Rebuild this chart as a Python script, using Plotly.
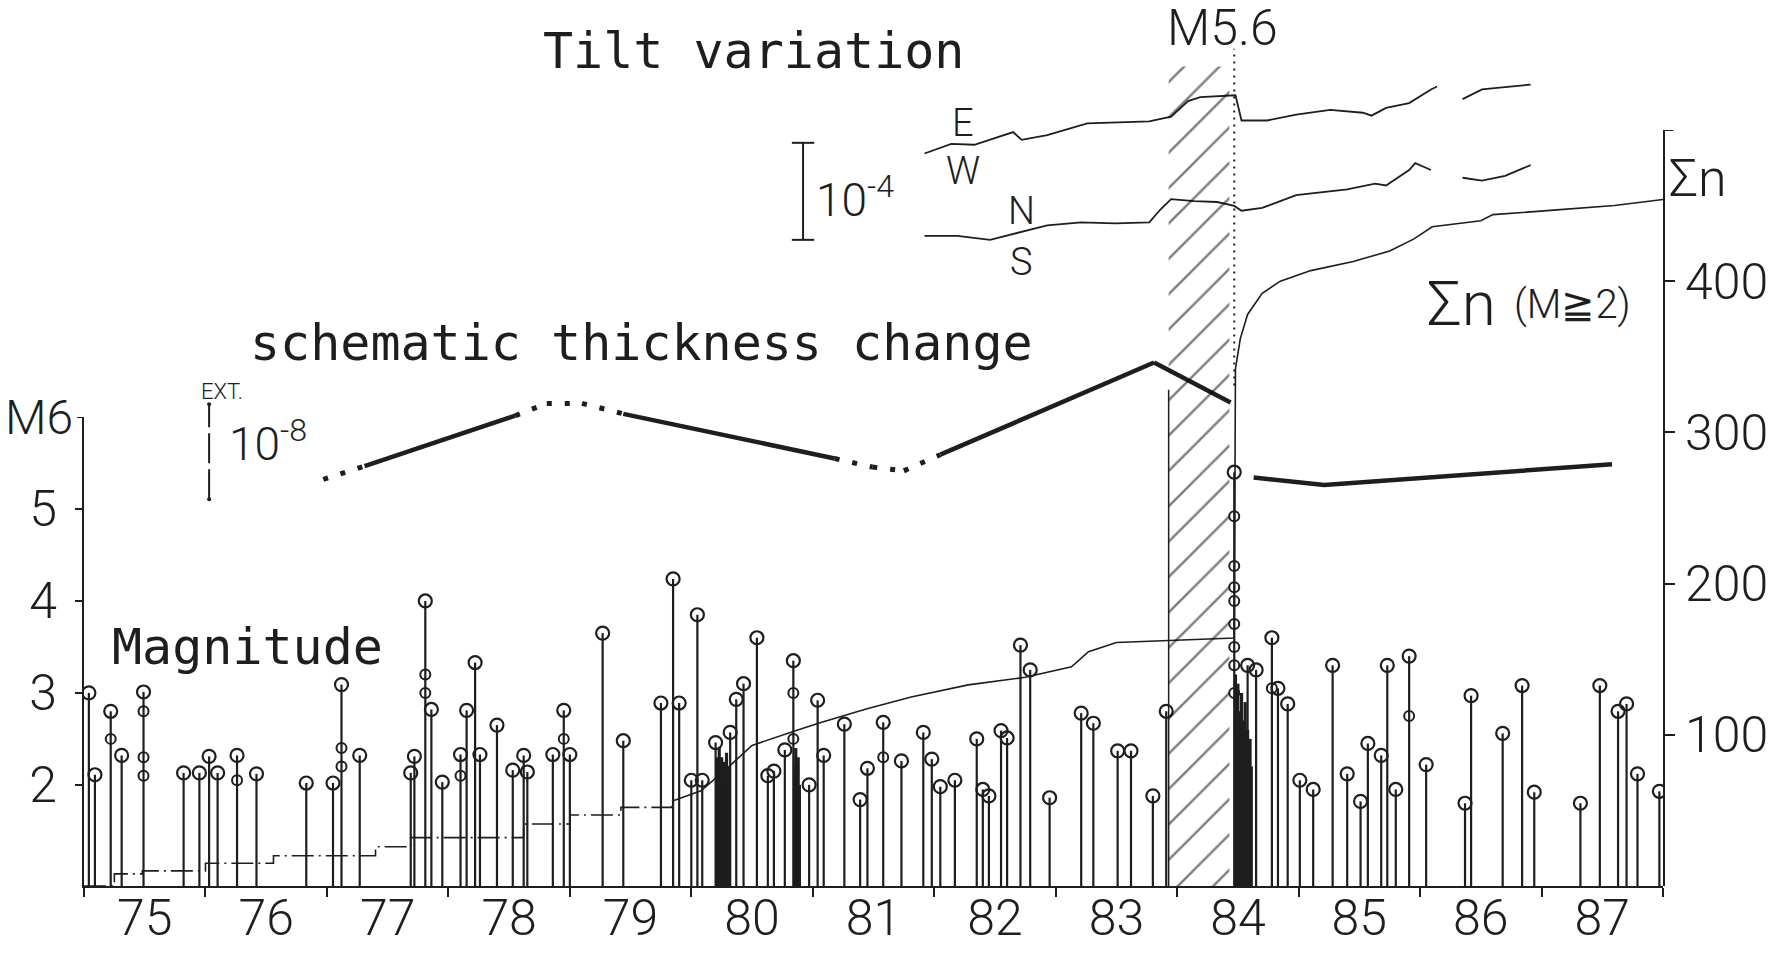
import plotly.graph_objects as go

# ---------------- data ----------------
YEAR_TICKS = list(range(1975, 1989))
YEAR_LABEL_POS = [y + 0.5 for y in range(1975, 1988)]
YEAR_LABELS = ["75", "76", "77", "78", "79", "80", "81", "82", "83", "84", "85", "86", "87"]

MAG_TICKS = [2, 3, 4, 5]
MAG_LABELS = ["2", "3", "4", "5"]
MAG_TOP = 6
MAG_TOP_LABEL = "M6"
SUM_TICKS = [100, 200, 300, 400]
SUM_LABELS = ["100", "200", "300", "400"]
SUM_TOP = 500

# individual earthquakes (time in years, magnitude)
EVENT_T = [1975.04, 1975.09, 1975.22, 1975.31, 1975.49, 1975.82, 1975.95, 1976.03, 1976.10, 1976.26,
           1976.42, 1976.83, 1977.05, 1977.12, 1977.27, 1977.69, 1977.72, 1977.81, 1977.86, 1977.95,
           1978.10, 1978.15, 1978.22, 1978.26, 1978.40, 1978.53, 1978.62, 1978.65, 1978.86, 1978.95,
           1979.00,
           1979.27, 1979.44, 1979.75, 1979.85, 1979.90, 1980.00, 1980.05, 1980.09, 1980.20, 1980.32,
           1980.37, 1980.43, 1980.54, 1980.63, 1980.68, 1980.77, 1980.84, 1980.97, 1981.04, 1981.09,
           1981.26, 1981.39, 1981.45, 1981.58, 1981.73, 1981.91, 1981.98, 1982.05, 1982.17, 1982.35,
           1982.40, 1982.45, 1982.55, 1982.60, 1982.71, 1982.79, 1982.95, 1983.21, 1983.31, 1983.51,
           1983.62, 1983.80, 1983.91,
           1984.47, 1984.58, 1984.65, 1984.78, 1984.83, 1984.91, 1985.01, 1985.12, 1985.28, 1985.40,
           1985.51, 1985.57, 1985.68, 1985.73, 1985.80, 1985.91, 1986.05, 1986.37, 1986.42, 1986.68,
           1986.84, 1986.94, 1987.32, 1987.48, 1987.63, 1987.70, 1987.79, 1987.97]
EVENT_M = [3.00, 2.11, 2.80, 2.32, 3.01, 2.13, 2.13, 2.31, 2.13, 2.32,
           2.12, 2.02, 2.02, 3.09, 2.32, 2.13, 2.31, 4.00, 2.82, 2.03,
           2.33, 2.81, 3.33, 2.33, 2.65, 2.16, 2.32, 2.14, 2.33, 2.81,
           2.33,
           3.65, 2.48, 2.89, 4.24, 2.89, 2.05, 3.85, 2.05, 2.46, 2.57,
           2.93, 3.10, 3.60, 2.10, 2.15, 2.38, 3.35, 2.00, 2.92, 2.32,
           2.66, 1.84, 2.18, 2.68, 2.26, 2.57, 2.28, 1.98, 2.05, 2.50,
           1.95, 1.88, 2.59, 2.51, 3.52, 3.25, 1.86, 2.78, 2.67, 2.37,
           2.37, 1.88, 2.80,
           5.40, 3.30, 3.25, 3.60, 3.05, 2.88, 2.05, 1.95, 3.30, 2.12,
           1.82, 2.45, 2.32, 3.30, 1.95, 3.40, 2.22, 1.80, 2.97, 2.56,
           3.08, 1.92, 1.80, 3.08, 2.80, 2.88, 2.12, 1.93]

# smaller events plotted on the same stems
SUB_T = [1975.22, 1975.49, 1975.49, 1975.49, 1976.26, 1977.12, 1977.12, 1977.81, 1977.81, 1978.10,
         1978.95, 1980.84, 1980.84, 1981.58, 1984.47, 1984.47, 1984.47, 1984.47, 1984.47, 1984.47,
         1984.47, 1984.47, 1984.78, 1985.91]
SUB_M = [2.50, 2.80, 2.30, 2.10, 2.05, 2.40, 2.20, 3.20, 3.00, 2.10,
         2.50, 3.00, 2.50, 2.30, 4.92, 4.38, 4.15, 4.00, 3.75, 3.50,
         3.30, 3.00, 3.05, 2.75]

# dense swarms (drawn as packed stems)
SWARM_T = [1980.21, 1980.22, 1980.23, 1980.24, 1980.25, 1980.26, 1980.27, 1980.28, 1980.29, 1980.30, 1980.31,
           1980.85, 1980.86, 1980.87, 1980.88, 1980.89,
           1984.48, 1984.49, 1984.50, 1984.51, 1984.52, 1984.53, 1984.54, 1984.55, 1984.56, 1984.57,
           1984.58, 1984.59, 1984.60, 1984.61]
SWARM_M = [2.30, 2.10, 2.40, 2.20, 2.30, 2.00, 2.25, 2.15, 2.35, 2.10, 2.20,
           2.20, 2.40, 2.10, 2.30, 2.00,
           3.20, 2.90, 3.10, 2.80, 2.60, 3.00, 2.70, 2.50, 2.90, 2.40,
           2.60, 2.30, 2.50, 2.20]

# cumulative number of events (M >= 2)
SUM_T = [1975.00, 1975.25, 1975.48, 1976.00, 1976.56, 1977.40, 1977.69, 1978.62, 1979.00, 1979.42,
         1979.84, 1980.08, 1980.31, 1980.50, 1980.87, 1981.06, 1981.44, 1981.81, 1982.28, 1982.75,
         1983.13, 1983.27, 1983.50, 1984.47, 1984.48, 1984.52, 1984.58, 1984.70, 1984.85, 1985.10,
         1985.45, 1985.75, 1985.95, 1986.10, 1986.50, 1986.60, 1987.10, 1987.60, 1988.00]
SUM_N = [0, 8, 10, 15, 20, 26, 32, 41, 47, 52,
         56, 63, 79, 93, 103, 108, 117, 125, 133, 138,
         145, 155, 161, 164, 342, 362, 378, 392, 400, 407,
         413, 420, 428, 436, 440, 444, 447, 450, 454]
SUM_DASHED_UNTIL = 1979.84

# tilt records (relative, micro-radian)
EW_T = [1981.92, 1982.14, 1982.33, 1982.65, 1982.72, 1982.93, 1983.26, 1983.77, 1983.95, 1984.09,
        1984.19, 1984.48, 1984.53, 1984.74, 1984.98, 1985.26, 1985.53, 1985.60, 1985.72, 1985.91,
        1986.09, 1986.14, None, 1986.35, 1986.51, 1986.74, 1986.91]
EW_V = [5, 15, 14, 27, 19, 24, 36, 38, 43, 59,
        63, 65, 39, 39, 45, 50, 47, 44, 52, 57,
        71, 74, None, 61, 71, 74, 76]
NS_T = [1981.92, 1982.19, 1982.46, 1982.65, 1982.93, 1983.21, 1983.49, 1983.77, 1983.86, 1983.95,
        1984.14, 1984.33, 1984.47, 1984.53, 1984.70, 1984.98, 1985.26, 1985.40, 1985.63, 1985.72,
        1985.91, 1985.96, 1986.09, None, 1986.35, 1986.51, 1986.70, 1986.91]
NS_V = [0, 0, -4, 2, 11, 14, 13, 14, 27, 38,
        36, 35, 31, 26, 29, 42, 46, 48, 54, 52,
        68, 75, 68, None, 60, 57, 62, 73]
TILT_SCALE = 100          # 10^-4 rad bar, in micro-radian

# schematic thickness change (relative, 10^-9)
THICK_T = [1976.97, 1977.31, 1978.55, 1978.81, 1979.10, 1979.44, 1981.18, 1981.49, 1981.75, 1982.05,
           1983.81, 1984.44]
THICK_V = [2.8, 4.2, 9.5, 10.8, 10.8, 9.7, 5.0, 4.1, 3.7, 5.4, 15.1, 10.9]
THICK_OBSERVED = [False, True, False, False, False, True, False, False, False, True, True]
THICK_POST_T = [1984.63, 1985.21, 1987.58]
THICK_POST_V = [3.0, 2.2, 4.4]
EXT_SCALE = 10            # 10^-8 bar, in 10^-9

PRECURSOR = [1983.93, 1984.43]
MAINSHOCK_T = 1984.47

# ---------------- styling / layout constants ----------------
INK = "#1e1e1e"
NARROW = "Roboto, Liberation Sans, sans-serif"
MONO = "DejaVu Sans Mono, Liberation Mono, monospace"
M_BASE = 0.9
EW_OFFSET, NS_OFFSET = 750, 670
THICK_OFFSET = 40

fig = go.Figure()

# precursor hatched band
p0, p1 = PRECURSOR
fig.add_trace(go.Scatter(x=[p0, p1, p1, p0, p0], y=[0, 0, 0.925, 0.925, 0], yaxis="y5",
                         mode="lines", line=dict(color="rgba(0,0,0,0)", width=0), fill="toself",
                         fillcolor="rgba(0,0,0,0)",
                         fillpattern=dict(shape="/", size=25, solidity=0.1, fgcolor="#000000",
                                          bgcolor="rgba(0,0,0,0)", fillmode="overlay"),
                         hoverinfo="skip", showlegend=False))
fig.add_trace(go.Scatter(x=[p0, p0], y=[0, 0.56], yaxis="y5", mode="lines",
                         line=dict(color=INK, width=1.5), hoverinfo="skip", showlegend=False))
# mainshock dotted line
fig.add_trace(go.Scatter(x=[MAINSHOCK_T, MAINSHOCK_T], y=[0.565, 0.945], yaxis="y5", mode="lines",
                         line=dict(color=INK, width=2, dash="2px,5px"), hoverinfo="skip", showlegend=False))

# stems
sx, sy = [], []
for t, m in zip(EVENT_T, EVENT_M):
    sx += [t, t, None]
    sy += [M_BASE, m, None]
fig.add_trace(go.Scatter(x=sx, y=sy, mode="lines", line=dict(color=INK, width=2.2),
                         yaxis="y", hoverinfo="skip", showlegend=False))
wx, wy = [], []
for t, m in zip(SWARM_T, SWARM_M):
    wx += [t, t, None]
    wy += [M_BASE, m, None]
fig.add_trace(go.Scatter(x=wx, y=wy, mode="lines", line=dict(color=INK, width=3.2),
                         yaxis="y", hoverinfo="skip", showlegend=False))
fig.add_trace(go.Scatter(x=EVENT_T, y=EVENT_M, mode="markers",
                         marker=dict(symbol="circle-open", size=13, color=INK, line=dict(width=2.2)),
                         yaxis="y", showlegend=False))
fig.add_trace(go.Scatter(x=SUB_T, y=SUB_M, mode="markers",
                         marker=dict(symbol="circle-open", size=10, color=INK, line=dict(width=2)),
                         yaxis="y", showlegend=False))

# top of the magnitude axis: short tick + "M6"
fig.add_shape(type="line", xref="paper", yref="y", x0=-0.0045, x1=0, y0=MAG_TOP, y1=MAG_TOP,
              line=dict(color=INK, width=2))
fig.add_annotation(text=MAG_TOP_LABEL, x=-0.006, y=MAG_TOP, xref="paper", yref="y", showarrow=False,
                   xanchor="right", yanchor="middle",
                   font=dict(size=48, family=NARROW, color=INK, weight=300))

# cumulative number
i_split = max(i for i, t in enumerate(SUM_T) if t <= SUM_DASHED_UNTIL)
fig.add_trace(go.Scatter(x=SUM_T[:i_split + 1], y=SUM_N[:i_split + 1], yaxis="y2", mode="lines",
                         line=dict(color=INK, width=1.6, shape="hv", dash="22px,5px,2px,5px"),
                         showlegend=False))
fig.add_trace(go.Scatter(x=SUM_T[i_split:], y=SUM_N[i_split:], yaxis="y2", mode="lines",
                         line=dict(color=INK, width=1.6), showlegend=False))
# bracket at the top of the cumulative axis
fig.add_shape(type="line", xref="paper", yref="y2", x0=1.0, x1=1.0065, y0=SUM_TOP, y1=SUM_TOP,
              line=dict(color=INK, width=2))

# tilt curves
fig.add_trace(go.Scatter(x=EW_T, y=[None if v is None else v + EW_OFFSET for v in EW_V], yaxis="y3",
                         mode="lines", line=dict(color=INK, width=1.8), connectgaps=False, showlegend=False))
fig.add_trace(go.Scatter(x=NS_T, y=[None if v is None else v + NS_OFFSET for v in NS_V], yaxis="y3",
                         mode="lines", line=dict(color=INK, width=1.8), connectgaps=False, showlegend=False))
# tilt scale bar
bar_x = 1980.92
bar_y0 = 666
fig.add_trace(go.Scatter(x=[bar_x, bar_x], y=[bar_y0, bar_y0 + TILT_SCALE], yaxis="y3", mode="lines+markers",
                         line=dict(color=INK, width=2), marker=dict(symbol="line-ew", size=16,
                                                                      line=dict(width=2, color=INK)),
                         showlegend=False))

# thickness change
for i in range(len(THICK_T) - 1):
    obs = THICK_OBSERVED[i]
    fig.add_trace(go.Scatter(x=THICK_T[i:i + 2], y=[v + THICK_OFFSET for v in THICK_V[i:i + 2]], yaxis="y4",
                             mode="lines",
                             line=dict(color=INK, width=4.5 if obs else 5, dash="solid" if obs else "5px,13px"),
                             showlegend=False))
fig.add_trace(go.Scatter(x=THICK_POST_T, y=[v + THICK_OFFSET for v in THICK_POST_V], yaxis="y4", mode="lines",
                         line=dict(color=INK, width=4.5), showlegend=False))
# extension scale bar
ext_x = 1976.03
ext_y0 = 40.7
fig.add_trace(go.Scatter(x=[ext_x, ext_x], y=[ext_y0, ext_y0 + EXT_SCALE], yaxis="y4", mode="lines+markers",
                         line=dict(color=INK, width=2, dash="30px,6px"),
                         marker=dict(symbol="circle", size=4, color=INK), showlegend=False))

# ---------------- annotations ----------------
def txt(s, x, y, size, family, xanchor="center", yanchor="middle", weight=None):
    f = dict(size=size, family=family, color=INK)
    if weight:
        f["weight"] = weight
    fig.add_annotation(text=s, x=x, y=y, xref="paper", yref="paper", showarrow=False,
                       xanchor=xanchor, yanchor=yanchor, font=f)

txt("Tilt variation", 0.4243, 0.942, 50, MONO)
txt("schematic thickness change", 0.1039, 0.613, 50, MONO, xanchor="left")
txt("Magnitude", 0.0165, 0.270, 50, MONO, xanchor="left")
txt("M5.6", 0.7213, 0.968, 50, NARROW, weight=300)
txt("E", 0.5567, 0.861, 38, NARROW, weight=300)
txt("W", 0.5567, 0.807, 38, NARROW, weight=300)
txt("N", 0.594, 0.762, 38, NARROW, weight=300)
txt("S", 0.594, 0.704, 38, NARROW, weight=300)
txt("10<sup>-4</sup>", 0.4880, 0.778, 46, NARROW, weight=300)
txt("EXT.", 0.0874, 0.558, 22, NARROW, weight=300)
txt("10<sup>-8</sup>", 0.1165, 0.502, 46, NARROW, weight=300)
txt("Σn", 0.8727, 0.658, 62, NARROW, weight=300)
txt("(M≧2)", 0.9424, 0.656, 40, NARROW, weight=300)
txt("Σn", 1.0222, 0.798, 52, NARROW, weight=300)

# ---------------- layout ----------------
tickfont = dict(size=50, family=NARROW, color=INK, weight=300)
fig.update_layout(
    width=1787, height=957,
    margin=dict(l=84, r=124, t=0, b=71, autoexpand=False),
    paper_bgcolor="white", plot_bgcolor="rgba(0,0,0,0)",
    showlegend=False,
    xaxis=dict(range=[1975, 1988], tickvals=YEAR_LABEL_POS, ticktext=YEAR_LABELS, ticks="",
               minor=dict(tickvals=YEAR_TICKS, ticks="outside", ticklen=9, tickwidth=2, tickcolor=INK),
               showline=True, linewidth=2, linecolor=INK, showgrid=False, zeroline=False,
               tickfont=tickfont, ticklabelstandoff=-13, automargin=False),
    yaxis=dict(domain=[0, 0.5293], range=[M_BASE, MAG_TOP], tickvals=MAG_TICKS, ticktext=MAG_LABELS,
               ticks="outside", ticklen=7, tickwidth=2, tickcolor=INK, showline=True, linewidth=2,
               linecolor=INK, showgrid=False, zeroline=False, tickfont=tickfont, anchor="x",
               ticklabelstandoff=8, automargin=False),
    yaxis2=dict(domain=[0, 0.8533], range=[0, SUM_TOP], tickvals=SUM_TICKS, ticktext=SUM_LABELS,
                side="right", anchor="x", ticks="outside", ticklen=10, tickwidth=2, tickcolor=INK,
                showline=True, linewidth=2, linecolor=INK, showgrid=False, zeroline=False,
                tickfont=tickfont, automargin=False),
    yaxis3=dict(domain=[0, 1], range=[0, 913.2], visible=False, anchor="x", automargin=False),
    yaxis4=dict(domain=[0, 1], range=[0, 93.26], visible=False, anchor="x", automargin=False),
    yaxis5=dict(domain=[0, 1], range=[0, 1], visible=False, anchor="x", automargin=False),
)

fig.write_html("out.html")
